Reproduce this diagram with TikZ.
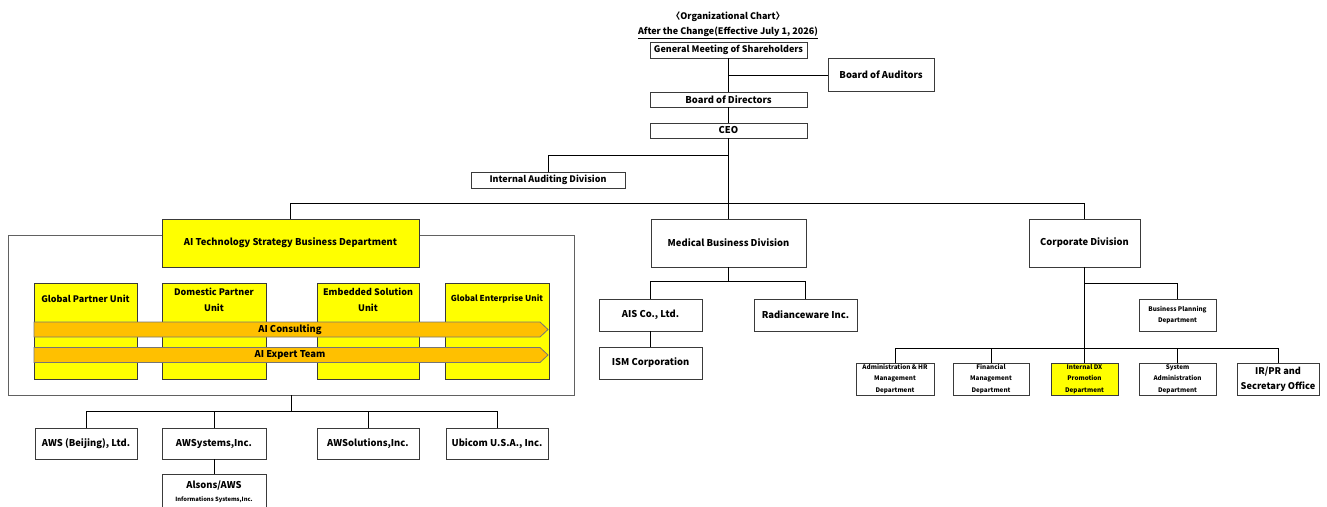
\documentclass[tikz,border=0pt]{standalone}
\usepackage{fontspec}
\setmainfont{Noto Sans CJK JP}
\definecolor{yel}{HTML}{FFFF00}
\definecolor{org}{HTML}{FFC000}
\definecolor{edge}{HTML}{3A3A3A}
\newcommand\fmain{\bfseries\fontsize{9.4}{11}\selectfont}
\newcommand\ftitle{\bfseries\fontsize{9}{11}\selectfont}
\newcommand\funit{\bfseries\fontsize{9}{16}\selectfont}
\newcommand\fsmall{\bfseries\fontsize{6.3}{11.3}\selectfont}
\newcommand\ftiny{\bfseries\fontsize{5.8}{7}\selectfont}
\tikzset{
  box/.style={draw=edge, line width=0.9pt, fill=white, inner sep=0pt, align=center, font=\fmain},
  ybox/.style={box, fill=yel},
  outerbox/.style={draw=edge!80, line width=0.9pt, fill=white, inner sep=0pt},
  link/.style={draw=black, line width=0.8pt},
  band/.style={draw=edge!70, fill=org, line width=0.8pt},
  txt/.style={inner sep=0pt, align=center, font=\fmain},
}
\begin{document}
\begin{tikzpicture}[x=1pt, y=-1pt]
\useasboundingbox (0,0) rectangle (1327,506);
\clip (0,0) rectangle (1327,506);
\fill[white] (0,0) rectangle (1327,506);

% titles
\node[txt, font=\ftitle] (title) at (728,17) {〈Organizational Chart〉};
\node[txt, font=\ftitle] (subtitle) at (728,32.5) {\underline{After the Change(Effective July 1, 2026)}};

% top chain
\node[box, font=\ftitle, minimum width=157pt, minimum height=16pt] (gm) at (728.5,50) {General Meeting of Shareholders};
\node[box, minimum width=106pt, minimum height=33pt] (aud) at (881,74.5) {Board of Auditors};
\node[box, minimum width=157pt, minimum height=15pt] (bod) at (728.5,99.5) {Board of Directors};
\node[box, minimum width=157pt, minimum height=15pt] (ceo) at (728.5,130.5) {CEO};
\node[box, font=\ftitle, minimum width=154pt, minimum height=16pt] (iad) at (548,180) {Internal Auditing Division};

\coordinate (audj) at (0,75);
\coordinate (iadj) at (0,155);
\coordinate (bar) at (0,203);
\draw[link] (gm.south) -- (bod.north);
\draw[link] (gm.south |- audj) -- (aud.west |- audj);
\draw[link] (bod.south) -- (ceo.north);

% AI department
\node[outerbox, minimum width=566pt, minimum height=160pt] (outer) at (291,315) {};
\node[ybox, minimum width=257pt, minimum height=48pt] (ai) at (290.5,243) {AI Technology Strategy Business Department};

\node[box, minimum width=155pt, minimum height=48pt] (med) at (728.5,243) {Medical Business Division};
\node[box, minimum width=111pt, minimum height=48pt] (corp) at (1084.5,243) {Corporate Division};

\draw[link] (ceo.south) -- (med.north);
\draw[link] (ceo.south |- iadj) -- (iad.north |- iadj) -- (iad.north);
\draw[link] (ai.north) -- (ai.north |- bar) -- (corp.north |- bar) -- (corp.north);

% units
\node[ybox, minimum width=103pt, minimum height=96pt] (gpu) at (85.5,331) {};
\node[ybox, minimum width=104pt, minimum height=96pt] (dpu) at (214,331) {};
\node[ybox, minimum width=102pt, minimum height=96pt] (esu) at (368,331) {};
\node[ybox, minimum width=104pt, minimum height=96pt] (geu) at (497,331) {};
\node[txt, font=\funit] (gput) at (gpu.center |- 0,299) {Global Partner Unit};
\node[txt, font=\funit] (dput) at (dpu.center |- 0,300) {Domestic Partner\\Unit};
\node[txt, font=\funit] (esut) at (esu.center |- 0,300) {Embedded Solution\\Unit};
\node[txt, font=\bfseries\fontsize{8.2}{10}\selectfont] (geut) at (geu.center |- 0,299) {Global Enterprise Unit};

% bands
\draw[band] (34,322) -- (540,322) -- (548,329.5) -- (540,337) -- (34,337) -- cycle;
\node[txt] (cons) at (290,329.5) {AI Consulting};
\draw[band] (34,347.5) -- (540,347.5) -- (548,355) -- (540,362.5) -- (34,362.5) -- cycle;
\node[txt] (expt) at (290,355) {AI Expert Team};

% subsidiaries of AI department
\node[box, minimum width=102pt, minimum height=31pt] (awsb) at (86,443.5) {AWS (Beijing), Ltd.};
\node[box, minimum width=104pt, minimum height=31pt] (awsys) at (214,443.5) {AWSystems,Inc.};
\node[box, minimum width=102pt, minimum height=31pt] (awsol) at (368,443.5) {AWSolutions,Inc.};
\node[box, minimum width=102pt, minimum height=31pt] (ubi) at (497,443.5) {Ubicom U.S.A., Inc.};
\node[box, minimum width=104pt, minimum height=38pt] (als) at (214,493) {};
\node[txt] (alst1) at (214,485.5) {Alsons/AWS};
\node[txt, font=\ftiny] (alst2) at (214,499.5) {Informations Systems,Inc.};

\coordinate (sb) at (0,411);
\draw[link] (outer.south) -- (outer.south |- sb);
\draw[link] (awsb.north) -- (awsb.north |- sb) -- (ubi.north |- sb) -- (ubi.north);
\draw[link] (awsys.north |- sb) -- (awsys.north);
\draw[link] (awsol.north |- sb) -- (awsol.north);
\draw[link] (awsys.south) -- (als.north);

% medical
\node[box, minimum width=103pt, minimum height=32pt] (ais) at (650.5,315) {AIS Co., Ltd.};
\node[box, minimum width=103pt, minimum height=32pt] (rad) at (805.5,315) {Radianceware Inc.};
\node[box, minimum width=103pt, minimum height=32pt] (ism) at (650.5,363) {ISM Corporation};
\coordinate (mb) at (0,281);
\draw[link] (med.south) -- (med.south |- mb);
\draw[link] (ais.north) -- (ais.north |- mb) -- (rad.north |- mb) -- (rad.north);
\draw[link] (ais.south) -- (ism.north);

% corporate
\node[box, font=\fsmall, minimum width=77pt, minimum height=32pt] (bp) at (1177.5,315) {Business Planning\\Department};
\node[box, font=\fsmall, minimum width=78pt, minimum height=32pt] (ahr) at (895,379) {Administration \& HR\\Management\\Department};
\node[box, font=\fsmall, minimum width=76pt, minimum height=32pt] (fin) at (991,379) {Financial\\Management\\Department};
\node[ybox, font=\fsmall, minimum width=67pt, minimum height=32pt] (idx) at (1084.5,379) {Internal DX\\Promotion\\Department};
\node[box, font=\fsmall, minimum width=77pt, minimum height=32pt] (sys) at (1177.5,379) {System\\Administration\\Department};
\node[box, font=\bfseries\fontsize{9.2}{15}\selectfont, minimum width=82pt, minimum height=32pt] (irpr) at (1278,379) {IR/PR and\\Secretary Office};
\coordinate (cb) at (0,283);
\coordinate (cr) at (0,348);
\draw[link] (corp.south) -- (idx.north);
\draw[link] (corp.south |- cb) -- (bp.north |- cb) -- (bp.north);
\draw[link] (ahr.north) -- (ahr.north |- cr) -- (irpr.north |- cr) -- (irpr.north);
\draw[link] (fin.north |- cr) -- (fin.north);
\draw[link] (sys.north |- cr) -- (sys.north);
\end{tikzpicture}
\end{document}
